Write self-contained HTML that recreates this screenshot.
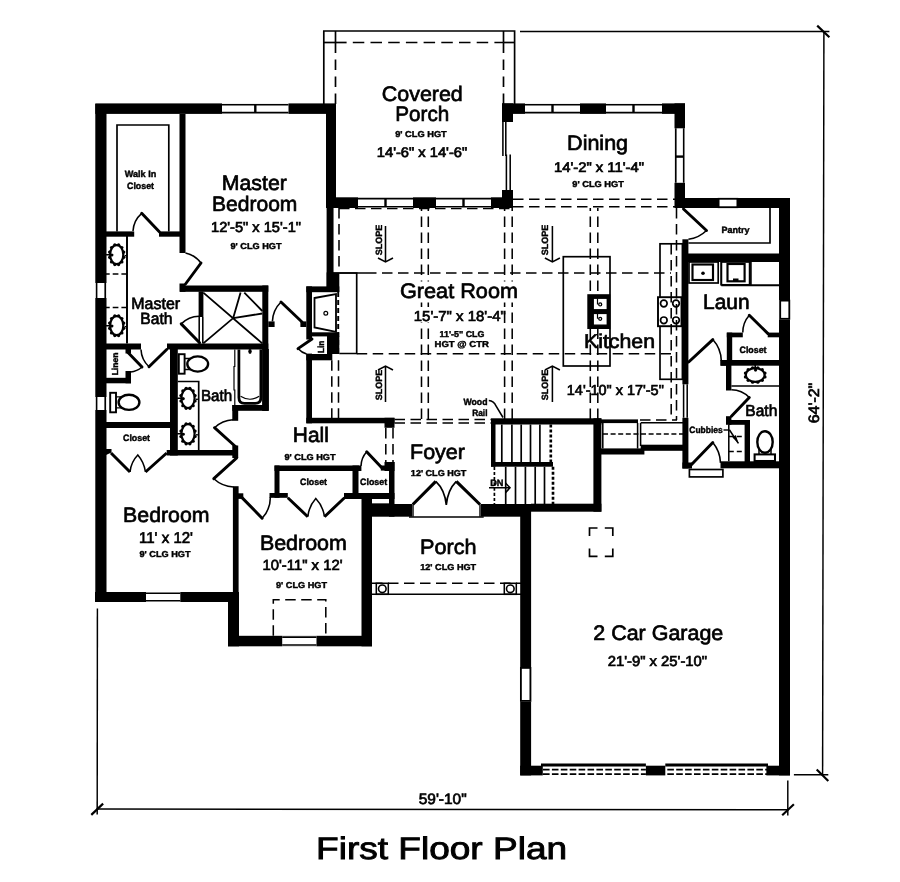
<!DOCTYPE html>
<html><head><meta charset="utf-8"><title>First Floor Plan</title>
<style>html,body{margin:0;padding:0;background:#fff}svg{display:block}svg{will-change:transform;transform:translateZ(0)}text{font-family:"Liberation Sans",sans-serif;fill:#000;stroke:#000;stroke-width:0.68px;paint-order:stroke;text-rendering:geometricPrecision}text.b{stroke-width:0.42px}</style>
</head><body>
<svg width="900" height="882" viewBox="0 0 900 882">
<rect width="900" height="882" fill="#fff"/>
<g id="walls">
<rect x="95.3" y="104.0" width="11.2" height="498.0" fill="#000"/>
<rect x="95.3" y="103.4" width="240.7" height="10.5" fill="#000"/>
<rect x="179.5" y="114.0" width="6.0" height="139.0" fill="#000"/>
<rect x="106.0" y="231.4" width="28.2" height="5.3" fill="#000"/>
<rect x="159.0" y="231.4" width="21.0" height="5.3" fill="#000"/>
<rect x="326.0" y="104.0" width="10.0" height="104.0" fill="#000"/>
<rect x="326.6" y="208.0" width="6.2" height="80.0" fill="#000"/>
<rect x="326.6" y="272.4" width="12.7" height="19.6" fill="#000"/>
<rect x="180.0" y="285.5" width="88.3" height="6.3" fill="#000"/>
<rect x="179.5" y="283.5" width="6.0" height="8.3" fill="#000"/>
<rect x="262.3" y="285.5" width="6.0" height="125.3" fill="#000"/>
<rect x="262.3" y="349.0" width="6.6" height="61.8" fill="#000"/>
<rect x="106.0" y="343.5" width="35.0" height="6.0" fill="#000"/>
<rect x="167.0" y="343.5" width="101.3" height="6.0" fill="#000"/>
<rect x="198.6" y="291.5" width="4.8" height="25.5" fill="#000"/>
<rect x="125.5" y="349.0" width="5.5" height="4.5" fill="#000"/>
<rect x="125.5" y="371.0" width="5.5" height="12.3" fill="#000"/>
<rect x="106.0" y="377.8" width="25.0" height="5.5" fill="#000"/>
<rect x="170.0" y="349.0" width="7.8" height="106.5" fill="#000"/>
<rect x="106.0" y="422.0" width="65.0" height="6.0" fill="#000"/>
<rect x="166.7" y="450.0" width="71.1" height="5.5" fill="#000"/>
<polygon points="106,449 111.5,449 111.5,452.5 106,455" fill="#000"/>
<rect x="232.3" y="405.0" width="36.0" height="5.8" fill="#000"/>
<rect x="232.3" y="405.0" width="5.9" height="15.8" fill="#000"/>
<rect x="232.3" y="445.5" width="5.9" height="12.5" fill="#000"/>
<rect x="232.9" y="486.2" width="5.7" height="113.8" fill="#000"/>
<rect x="228.0" y="592.0" width="11.0" height="54.3" fill="#000"/>
<rect x="238.0" y="493.3" width="5.3" height="5.6" fill="#000"/>
<rect x="95.0" y="592.0" width="137.0" height="10.0" fill="#000"/>
<rect x="228.0" y="635.8" width="144.0" height="10.5" fill="#000"/>
<rect x="361.5" y="493.0" width="10.5" height="153.3" fill="#000"/>
<rect x="274.5" y="465.5" width="84.5" height="5.5" fill="#000"/>
<rect x="274.5" y="465.5" width="5.0" height="32.3" fill="#000"/>
<rect x="269.5" y="493.0" width="18.3" height="4.8" fill="#000"/>
<rect x="352.5" y="465.5" width="6.0" height="32.3" fill="#000"/>
<rect x="344.5" y="493.0" width="27.5" height="4.8" fill="#000"/>
<rect x="389.0" y="462.0" width="5.5" height="54.7" fill="#000"/>
<rect x="344.0" y="493.0" width="50.5" height="6.0" fill="#000"/>
<rect x="384.5" y="417.8" width="10.0" height="10.0" fill="#000"/>
<rect x="384.5" y="462.0" width="10.0" height="9.0" fill="#000"/>
<rect x="380.8" y="465.5" width="8.2" height="5.1" fill="#000"/>
<rect x="358.4" y="465.5" width="3.0" height="5.5" fill="#000"/>
<rect x="306.3" y="286.4" width="5.7" height="53.1" fill="#000"/>
<rect x="306.3" y="353.6" width="5.7" height="69.7" fill="#000"/>
<rect x="306.3" y="417.8" width="88.2" height="5.5" fill="#000"/>
<rect x="306.3" y="286.4" width="33.0" height="5.8" fill="#000"/>
<rect x="312.0" y="332.3" width="27.3" height="4.1" fill="#000"/>
<rect x="327.0" y="336.0" width="12.3" height="18.0" fill="#000"/>
<rect x="306.3" y="354.0" width="26.0" height="6.3" fill="#000"/>
<rect x="300.4" y="321.4" width="5.9" height="5.6" fill="#000"/>
<rect x="268.3" y="321.4" width="6.3" height="5.6" fill="#000"/>
<rect x="372.0" y="504.0" width="40.0" height="12.7" fill="#000"/>
<rect x="481.0" y="504.0" width="50.0" height="12.7" fill="#000"/>
<rect x="520.2" y="504.0" width="10.9" height="271.4" fill="#000"/>
<rect x="520.2" y="765.7" width="22.6" height="9.7" fill="#000"/>
<rect x="645.9" y="765.7" width="19.4" height="9.7" fill="#000"/>
<rect x="766.4" y="765.7" width="23.6" height="9.7" fill="#000"/>
<rect x="779.0" y="198.0" width="11.0" height="577.4" fill="#000"/>
<rect x="675.0" y="198.0" width="115.0" height="10.0" fill="#000"/>
<rect x="502.0" y="103.4" width="183.0" height="10.5" fill="#000"/>
<rect x="502.0" y="103.4" width="11.0" height="18.6" fill="#000"/>
<rect x="502.0" y="190.0" width="11.0" height="18.0" fill="#000"/>
<rect x="674.5" y="103.4" width="10.5" height="104.6" fill="#000"/>
<rect x="326.0" y="197.3" width="187.0" height="10.7" fill="#000"/>
<rect x="682.4" y="239.3" width="6.0" height="145.0" fill="#000"/>
<rect x="682.4" y="417.8" width="6.0" height="50.7" fill="#000"/>
<rect x="682.4" y="462.5" width="9.6" height="6.0" fill="#000"/>
<rect x="688.0" y="253.5" width="92.0" height="8.5" fill="#000"/>
<rect x="726.8" y="332.6" width="5.4" height="32.4" fill="#000"/>
<rect x="726.8" y="332.6" width="16.0" height="4.7" fill="#000"/>
<rect x="767.7" y="332.6" width="12.3" height="4.7" fill="#000"/>
<rect x="720.5" y="360.0" width="59.5" height="5.7" fill="#000"/>
<rect x="726.0" y="365.0" width="5.4" height="25.5" fill="#000"/>
<rect x="726.0" y="416.2" width="5.4" height="8.6" fill="#000"/>
<rect x="728.3" y="420.0" width="21.7" height="4.8" fill="#000"/>
<rect x="744.6" y="420.0" width="5.4" height="43.0" fill="#000"/>
<rect x="720.5" y="461.3" width="59.5" height="7.0" fill="#000"/>
<rect x="491.0" y="418.3" width="110.4" height="6.2" fill="#000"/>
<rect x="593.4" y="418.3" width="8.0" height="93.4" fill="#000"/>
<rect x="531.0" y="503.7" width="70.4" height="8.0" fill="#000"/>
<rect x="491.0" y="421.0" width="4.5" height="45.7" fill="#000"/>
<rect x="491.0" y="462.0" width="62.0" height="4.7" fill="#000"/>
<rect x="601.0" y="419.4" width="37.0" height="3.7" fill="#000"/>
<rect x="601.0" y="448.4" width="43.4" height="6.1" fill="#000"/>
<rect x="640.7" y="444.7" width="43.3" height="6.1" fill="#000"/>
</g>
<g id="windows">
<rect x="222.0" y="103.1" width="66.5" height="11.1" fill="#fff"/>
<path d="M222,104.7 H288.5 M222,112.6 H288.5" stroke="#000" stroke-width="1.6" fill="none"/>
<path d="M255.3,104.7 V112.6" stroke="#000" stroke-width="2.4" fill="none"/>
<rect x="95.0" y="283.0" width="11.8" height="15.0" fill="#fff"/>
<path d="M96.6,283 V298 M105.2,283 V298" stroke="#000" stroke-width="1.6" fill="none"/>
<rect x="95.0" y="397.0" width="11.8" height="13.0" fill="#fff"/>
<path d="M96.6,397 V410 M105.2,397 V410" stroke="#000" stroke-width="1.6" fill="none"/>
<rect x="146.0" y="591.7" width="34.3" height="10.6" fill="#fff"/>
<path d="M146,593.3 H180.3 M146,600.7 H180.3" stroke="#000" stroke-width="1.6" fill="none"/>
<rect x="282.2" y="635.5" width="34.3" height="11.1" fill="#fff"/>
<path d="M282.2,637.1 H316.5 M282.2,645.0 H316.5" stroke="#000" stroke-width="1.6" fill="none"/>
<rect x="358.0" y="197.0" width="55.0" height="11.3" fill="#fff"/>
<path d="M358,198.6 H413 M358,206.7 H413" stroke="#000" stroke-width="1.6" fill="none"/>
<path d="M385.5,198.6 V206.7" stroke="#000" stroke-width="2.4" fill="none"/>
<rect x="436.0" y="197.0" width="55.0" height="11.3" fill="#fff"/>
<path d="M436,198.6 H491 M436,206.7 H491" stroke="#000" stroke-width="1.6" fill="none"/>
<path d="M463.5,198.6 V206.7" stroke="#000" stroke-width="2.4" fill="none"/>
<rect x="525.0" y="103.1" width="55.0" height="11.1" fill="#fff"/>
<path d="M525,104.7 H580 M525,112.6 H580" stroke="#000" stroke-width="1.6" fill="none"/>
<path d="M552.5,104.7 V112.6" stroke="#000" stroke-width="2.4" fill="none"/>
<rect x="606.0" y="103.1" width="56.0" height="11.1" fill="#fff"/>
<path d="M606,104.7 H662 M606,112.6 H662" stroke="#000" stroke-width="1.6" fill="none"/>
<path d="M633.5,104.7 V112.6" stroke="#000" stroke-width="2.4" fill="none"/>
<rect x="674.2" y="128.3" width="11.1" height="54.5" fill="#fff"/>
<path d="M675.8,128.3 V182.8 M683.7,128.3 V182.8" stroke="#000" stroke-width="1.6" fill="none"/>
<path d="M675.8,156.6 H683.7" stroke="#000" stroke-width="2.4" fill="none"/>
<rect x="718.5" y="197.7" width="19.5" height="10.9" fill="#fff"/>
<path d="M718.5,199.3 H738 M718.5,207.0 H738" stroke="#000" stroke-width="1.6" fill="none"/>
<rect x="778.7" y="300.0" width="11.6" height="19.4" fill="#fff"/>
<path d="M780.3,300 V319.4 M788.7,300 V319.4" stroke="#000" stroke-width="1.6" fill="none"/>
<rect x="519.9" y="667.3" width="11.5" height="34.2" fill="#fff"/>
<path d="M521.5,667.3 V701.5 M529.8,667.3 V701.5" stroke="#000" stroke-width="1.6" fill="none"/>
<rect x="502.0" y="122.0" width="11.0" height="68.0" fill="#fff"/>
<path d="M502.9,122 V156 M505.8,122 V156 M506.4,154.5 V190 M510.2,154.5 V190 M505.8,155.3 H506.4" fill="none" stroke="#000" stroke-width="1.54" stroke-linejoin="miter"/>
<rect x="718.0" y="198.0" width="20.0" height="10.0" fill="#fff"/>
<rect x="718.6" y="198.8" width="18.8" height="8.4" fill="none" stroke="#000" stroke-width="1.82"/>
<rect x="779.5" y="300.0" width="10.5" height="19.4" fill="#fff"/>
<rect x="780.2" y="300.6" width="9.1" height="18.2" fill="none" stroke="#000" stroke-width="1.82"/>
<rect x="520.2" y="667.3" width="10.9" height="34.2" fill="#fff"/>
<rect x="520.9" y="667.9" width="9.5" height="33.0" fill="none" stroke="#000" stroke-width="1.82"/>
<path d="M683.6,384.3 V417.8 M687.2,384.3 V417.8" fill="none" stroke="#000" stroke-width="1.54" stroke-linejoin="miter"/>
<line x1="541.0" y1="765.1" x2="645.9" y2="765.1" stroke="#000" stroke-width="3.0"/>
<line x1="543.0" y1="769.5" x2="645.9" y2="769.5" stroke="#000" stroke-width="1.75" stroke-dasharray="6.6 2.3"/>
<line x1="543.0" y1="774.2" x2="645.9" y2="774.2" stroke="#000" stroke-width="1.75" stroke-dasharray="6.6 2.3"/>
<line x1="665.3" y1="765.1" x2="768.0" y2="765.1" stroke="#000" stroke-width="3.0"/>
<line x1="667.3" y1="769.5" x2="768.0" y2="769.5" stroke="#000" stroke-width="1.75" stroke-dasharray="6.6 2.3"/>
<line x1="667.3" y1="774.2" x2="768.0" y2="774.2" stroke="#000" stroke-width="1.75" stroke-dasharray="6.6 2.3"/>
</g>
<g id="thin">
<path d="M323.8,104 V31 H514.6 V104" fill="none" stroke="#000" stroke-width="1.68" stroke-linejoin="miter"/>
<line x1="335.5" y1="31.0" x2="335.5" y2="42.5" stroke="#000" stroke-width="1.68"/>
<line x1="503.5" y1="31.0" x2="503.5" y2="42.5" stroke="#000" stroke-width="1.68"/>
<line x1="323.8" y1="42.5" x2="346.6" y2="42.5" stroke="#000" stroke-width="1.68"/>
<line x1="503.5" y1="42.5" x2="514.6" y2="42.5" stroke="#000" stroke-width="1.68"/>
<line x1="352.8" y1="42.5" x2="503.5" y2="42.5" stroke="#000" stroke-width="1.68" stroke-dasharray="11.5 6.2"/>
<line x1="335.5" y1="42.5" x2="335.5" y2="104.0" stroke="#000" stroke-width="1.68" stroke-dasharray="10.5 6.5"/>
<line x1="503.5" y1="42.5" x2="503.5" y2="104.0" stroke="#000" stroke-width="1.68" stroke-dasharray="10.5 6.5"/>
<line x1="332.7" y1="208.0" x2="332.7" y2="273.0" stroke="#000" stroke-width="1.68"/>
<line x1="332.7" y1="273.0" x2="366.0" y2="273.0" stroke="#000" stroke-width="1.68"/>
<line x1="339.0" y1="208.0" x2="339.0" y2="270.0" stroke="#000" stroke-width="1.54" stroke-dasharray="10.5 5.5"/>
<line x1="421.5" y1="419.0" x2="421.5" y2="208.0" stroke="#000" stroke-width="1.54" stroke-dasharray="10.5 5.5"/>
<line x1="428.3" y1="419.0" x2="428.3" y2="208.0" stroke="#000" stroke-width="1.54" stroke-dasharray="10.5 5.5"/>
<line x1="504.6" y1="419.0" x2="504.6" y2="208.0" stroke="#000" stroke-width="1.54" stroke-dasharray="10.5 5.5"/>
<line x1="512.2" y1="419.0" x2="512.2" y2="208.0" stroke="#000" stroke-width="1.54" stroke-dasharray="10.5 5.5"/>
<line x1="590.3" y1="419.0" x2="590.3" y2="208.0" stroke="#000" stroke-width="1.54" stroke-dasharray="10.5 5.5"/>
<line x1="597.8" y1="419.0" x2="597.8" y2="208.0" stroke="#000" stroke-width="1.54" stroke-dasharray="10.5 5.5"/>
<line x1="366.0" y1="273.0" x2="671.0" y2="273.0" stroke="#000" stroke-width="1.54" stroke-dasharray="10.5 5.5"/>
<line x1="356.7" y1="353.8" x2="671.0" y2="353.8" stroke="#000" stroke-width="1.54" stroke-dasharray="10.5 5.5"/>
<line x1="513.0" y1="199.3" x2="675.0" y2="199.3" stroke="#000" stroke-width="1.54" stroke-dasharray="10.5 5.5"/>
<line x1="513.0" y1="206.8" x2="675.0" y2="206.8" stroke="#000" stroke-width="1.54" stroke-dasharray="10.5 5.5"/>
<line x1="339.0" y1="208.7" x2="513.0" y2="208.7" stroke="#000" stroke-width="1.26" stroke-dasharray="10.5 5.5"/>
<path d="M339.3,273 H356.7 V353.5 H339.3" fill="none" stroke="#000" stroke-width="1.68" stroke-linejoin="miter"/>
<line x1="338.2" y1="292.0" x2="338.2" y2="354.0" stroke="#000" stroke-width="1.92" stroke-dasharray="5 3"/>
<line x1="331.8" y1="360.3" x2="331.8" y2="418.0" stroke="#000" stroke-width="1.54" stroke-dasharray="10.5 5.5"/>
<line x1="338.5" y1="360.3" x2="338.5" y2="418.0" stroke="#000" stroke-width="1.54" stroke-dasharray="10.5 5.5"/>
<line x1="385.8" y1="428.0" x2="385.8" y2="462.0" stroke="#000" stroke-width="1.54" stroke-dasharray="10.5 5.5"/>
<line x1="393.0" y1="428.0" x2="393.0" y2="462.0" stroke="#000" stroke-width="1.54" stroke-dasharray="10.5 5.5"/>
<line x1="394.5" y1="419.6" x2="491.0" y2="419.6" stroke="#000" stroke-width="1.54" stroke-dasharray="10.5 5.5"/>
<line x1="394.5" y1="423.0" x2="491.0" y2="423.0" stroke="#000" stroke-width="1.54" stroke-dasharray="10.5 5.5"/>
<line x1="640.0" y1="420.0" x2="677.0" y2="420.0" stroke="#000" stroke-width="1.54" stroke-dasharray="10.5 5.5"/>
<line x1="640.7" y1="422.8" x2="683.5" y2="422.8" stroke="#000" stroke-width="1.54"/>
<rect x="563.3" y="256.7" width="46.7" height="109.3" fill="none" stroke="#000" stroke-width="1.68"/>
<rect x="660.0" y="243.8" width="22.4" height="135.5" fill="none" stroke="#000" stroke-width="1.68"/>
<path d="M770,208 V243 H688.4" fill="none" stroke="#000" stroke-width="1.68" stroke-linejoin="miter"/>
<path d="M117,231.4 V125 H168.8 V231.4" fill="none" stroke="#000" stroke-width="1.68" stroke-linejoin="miter"/>
<line x1="127.0" y1="236.0" x2="127.0" y2="343.5" stroke="#000" stroke-width="1.96"/>
<line x1="104.0" y1="274.0" x2="127.0" y2="274.0" stroke="#000" stroke-width="1.68" stroke-dasharray="5.7 3"/>
<line x1="104.0" y1="307.5" x2="127.0" y2="307.5" stroke="#000" stroke-width="1.68" stroke-dasharray="5.7 3"/>
<path d="M177.8,381.5 H198.7 V450" fill="none" stroke="#000" stroke-width="1.68" stroke-linejoin="miter"/>
<line x1="721.3" y1="285.2" x2="779.5" y2="285.2" stroke="#000" stroke-width="1.96"/>
<line x1="721.3" y1="262.0" x2="721.3" y2="285.2" stroke="#000" stroke-width="1.68"/>
<line x1="750.9" y1="262.0" x2="750.9" y2="285.2" stroke="#000" stroke-width="1.68"/>
<line x1="731.4" y1="386.0" x2="779.5" y2="386.0" stroke="#000" stroke-width="1.68"/>
<line x1="728.8" y1="424.8" x2="728.8" y2="461.3" stroke="#000" stroke-width="1.54"/>
<line x1="728.8" y1="436.4" x2="744.6" y2="436.4" stroke="#000" stroke-width="1.54" stroke-dasharray="5 3"/>
<line x1="728.8" y1="451.5" x2="744.6" y2="451.5" stroke="#000" stroke-width="1.54" stroke-dasharray="5 3"/>
<rect x="689.4" y="469.5" width="33.5" height="7.4" fill="#fff" stroke="#000" stroke-width="1.68"/>
<line x1="603.0" y1="434.1" x2="683.0" y2="434.1" stroke="#000" stroke-width="1.54" stroke-dasharray="5 2.6"/>
<path d="M602.8,423 V448.5 M637.6,423 V448.5 M640.6,423 V446" fill="none" stroke="#000" stroke-width="1.54" stroke-linejoin="miter"/>
<rect x="372.0" y="499.0" width="17.0" height="5.0" fill="#fff"/>
<line x1="372.0" y1="503.9" x2="389.0" y2="503.9" stroke="#000" stroke-width="1.12"/>
<line x1="501.8" y1="424.5" x2="501.8" y2="462.0" stroke="#000" stroke-width="1.68"/>
<line x1="511.9" y1="424.5" x2="511.9" y2="462.0" stroke="#000" stroke-width="1.68"/>
<line x1="521.2" y1="424.5" x2="521.2" y2="462.0" stroke="#000" stroke-width="1.68"/>
<line x1="530.5" y1="424.5" x2="530.5" y2="462.0" stroke="#000" stroke-width="1.68"/>
<line x1="539.9" y1="424.5" x2="539.9" y2="462.0" stroke="#000" stroke-width="1.68"/>
<line x1="550.8" y1="424.5" x2="550.8" y2="462.0" stroke="#000" stroke-width="2.64" stroke-dasharray="3 2"/>
<line x1="505.7" y1="466.7" x2="505.7" y2="504.0" stroke="#000" stroke-width="1.68"/>
<line x1="515.5" y1="466.7" x2="515.5" y2="504.0" stroke="#000" stroke-width="1.68"/>
<line x1="525.4" y1="466.7" x2="525.4" y2="504.0" stroke="#000" stroke-width="1.68"/>
<line x1="535.2" y1="466.7" x2="535.2" y2="504.0" stroke="#000" stroke-width="1.68"/>
<line x1="544.5" y1="466.7" x2="544.5" y2="504.0" stroke="#000" stroke-width="1.68"/>
<line x1="494.4" y1="466.7" x2="494.4" y2="504.0" stroke="#000" stroke-width="1.68" stroke-dasharray="3.2 2"/>
<line x1="553.0" y1="466.7" x2="553.0" y2="504.0" stroke="#000" stroke-width="2.64" stroke-dasharray="3 2"/>
<line x1="372.0" y1="583.3" x2="521.0" y2="583.3" stroke="#000" stroke-width="1.54" stroke-dasharray="10.5 5.5"/>
<line x1="372.0" y1="594.3" x2="521.0" y2="594.3" stroke="#000" stroke-width="1.54"/>
<rect x="376.3" y="583.3" width="12.0" height="11.0" fill="none" stroke="#000" stroke-width="1.54"/>
<circle cx="382.3" cy="588.8" r="3.8" fill="#fff" stroke="#000" stroke-width="1.6"/>
<rect x="504.3" y="583.3" width="12.0" height="11.0" fill="none" stroke="#000" stroke-width="1.54"/>
<circle cx="510.3" cy="588.8" r="3.8" fill="#fff" stroke="#000" stroke-width="1.6"/>
<path d="M273.3,635.8 V599.7 H325.8 V635.8" fill="none" stroke="#000" stroke-width="1.54" stroke-linejoin="miter" stroke-dasharray="10.5 5.5"/>
<path d="M589.5,536 V528 H597.5 M604.8,528 H612.8 V536 M612.8,548.4 V556.4 H604.8 M597.5,556.4 H589.5 V548.4" fill="none" stroke="#000" stroke-width="1.68" stroke-linejoin="miter"/>
<path d="M413,504.2 V516.7 M480,504.2 V516.7" fill="none" stroke="#000" stroke-width="1.4" stroke-linejoin="miter"/>
<line x1="409.0" y1="516.9" x2="483.7" y2="516.9" stroke="#000" stroke-width="1.54"/>
</g>
<g id="fixtures">
<circle cx="123.8" cy="257.3" r="1.6" fill="#000"/>
<circle cx="121.9" cy="261.9" r="1.6" fill="#000"/>
<circle cx="118.6" cy="264.6" r="1.6" fill="#000"/>
<circle cx="114.8" cy="264.6" r="1.6" fill="#000"/>
<circle cx="111.5" cy="261.9" r="1.6" fill="#000"/>
<circle cx="109.6" cy="257.3" r="1.6" fill="#000"/>
<circle cx="109.6" cy="252.1" r="1.6" fill="#000"/>
<circle cx="111.5" cy="247.5" r="1.6" fill="#000"/>
<circle cx="114.8" cy="244.8" r="1.6" fill="#000"/>
<circle cx="118.6" cy="244.8" r="1.6" fill="#000"/>
<circle cx="121.9" cy="247.5" r="1.6" fill="#000"/>
<circle cx="123.8" cy="252.1" r="1.6" fill="#000"/>
<ellipse cx="116.7" cy="254.7" rx="6.6" ry="9.5" fill="#fff" stroke="#000" stroke-width="2.2"/>
<path d="M106.5,254.7 H112.5" stroke="#000" stroke-width="1.6" stroke-linecap="round"/>
<circle cx="111.9" cy="255.1" r="1.5" fill="#000"/>
<path d="M124.6,255.7 h2" stroke="#000" stroke-width="1.4"/>
<circle cx="123.8" cy="328.3" r="1.6" fill="#000"/>
<circle cx="121.9" cy="332.9" r="1.6" fill="#000"/>
<circle cx="118.6" cy="335.6" r="1.6" fill="#000"/>
<circle cx="114.8" cy="335.6" r="1.6" fill="#000"/>
<circle cx="111.5" cy="332.9" r="1.6" fill="#000"/>
<circle cx="109.6" cy="328.3" r="1.6" fill="#000"/>
<circle cx="109.6" cy="323.1" r="1.6" fill="#000"/>
<circle cx="111.5" cy="318.5" r="1.6" fill="#000"/>
<circle cx="114.8" cy="315.8" r="1.6" fill="#000"/>
<circle cx="118.6" cy="315.8" r="1.6" fill="#000"/>
<circle cx="121.9" cy="318.5" r="1.6" fill="#000"/>
<circle cx="123.8" cy="323.1" r="1.6" fill="#000"/>
<ellipse cx="116.7" cy="325.7" rx="6.6" ry="9.5" fill="#fff" stroke="#000" stroke-width="2.2"/>
<path d="M106.5,325.7 H112.5" stroke="#000" stroke-width="1.6" stroke-linecap="round"/>
<circle cx="111.9" cy="326.1" r="1.5" fill="#000"/>
<path d="M124.6,326.7 h2" stroke="#000" stroke-width="1.4"/>
<circle cx="195.1" cy="401.0" r="1.6" fill="#000"/>
<circle cx="193.2" cy="405.7" r="1.6" fill="#000"/>
<circle cx="189.9" cy="408.3" r="1.6" fill="#000"/>
<circle cx="186.1" cy="408.3" r="1.6" fill="#000"/>
<circle cx="182.8" cy="405.7" r="1.6" fill="#000"/>
<circle cx="180.9" cy="401.0" r="1.6" fill="#000"/>
<circle cx="180.9" cy="395.6" r="1.6" fill="#000"/>
<circle cx="182.8" cy="390.9" r="1.6" fill="#000"/>
<circle cx="186.1" cy="388.3" r="1.6" fill="#000"/>
<circle cx="189.9" cy="388.3" r="1.6" fill="#000"/>
<circle cx="193.2" cy="390.9" r="1.6" fill="#000"/>
<circle cx="195.1" cy="395.6" r="1.6" fill="#000"/>
<ellipse cx="188.0" cy="398.3" rx="6.6" ry="9.7" fill="#fff" stroke="#000" stroke-width="2.2"/>
<path d="M177.8,398.3 H183.8" stroke="#000" stroke-width="1.6" stroke-linecap="round"/>
<circle cx="183.2" cy="398.7" r="1.5" fill="#000"/>
<path d="M195.9,399.3 h2" stroke="#000" stroke-width="1.4"/>
<circle cx="195.1" cy="436.5" r="1.6" fill="#000"/>
<circle cx="193.2" cy="441.2" r="1.6" fill="#000"/>
<circle cx="189.9" cy="443.8" r="1.6" fill="#000"/>
<circle cx="186.1" cy="443.8" r="1.6" fill="#000"/>
<circle cx="182.8" cy="441.2" r="1.6" fill="#000"/>
<circle cx="180.9" cy="436.5" r="1.6" fill="#000"/>
<circle cx="180.9" cy="431.1" r="1.6" fill="#000"/>
<circle cx="182.8" cy="426.4" r="1.6" fill="#000"/>
<circle cx="186.1" cy="423.8" r="1.6" fill="#000"/>
<circle cx="189.9" cy="423.8" r="1.6" fill="#000"/>
<circle cx="193.2" cy="426.4" r="1.6" fill="#000"/>
<circle cx="195.1" cy="431.1" r="1.6" fill="#000"/>
<ellipse cx="188.0" cy="433.8" rx="6.6" ry="9.7" fill="#fff" stroke="#000" stroke-width="2.2"/>
<path d="M177.8,433.8 H183.8" stroke="#000" stroke-width="1.6" stroke-linecap="round"/>
<circle cx="183.2" cy="434.2" r="1.5" fill="#000"/>
<path d="M195.9,434.8 h2" stroke="#000" stroke-width="1.4"/>
<circle cx="765.0" cy="376.9" r="1.6" fill="#000"/>
<circle cx="762.3" cy="380.3" r="1.6" fill="#000"/>
<circle cx="757.8" cy="382.2" r="1.6" fill="#000"/>
<circle cx="752.6" cy="382.2" r="1.6" fill="#000"/>
<circle cx="748.1" cy="380.3" r="1.6" fill="#000"/>
<circle cx="745.4" cy="376.9" r="1.6" fill="#000"/>
<circle cx="745.4" cy="373.1" r="1.6" fill="#000"/>
<circle cx="748.1" cy="369.7" r="1.6" fill="#000"/>
<circle cx="752.6" cy="367.8" r="1.6" fill="#000"/>
<circle cx="757.8" cy="367.8" r="1.6" fill="#000"/>
<circle cx="762.3" cy="369.7" r="1.6" fill="#000"/>
<circle cx="765.0" cy="373.1" r="1.6" fill="#000"/>
<ellipse cx="755.2" cy="375.0" rx="9.4" ry="6.8" fill="#fff" stroke="#000" stroke-width="2.2"/>
<path d="M755.2,365.4 V370.6" stroke="#000" stroke-width="1.6" stroke-linecap="round"/>
<circle cx="755.6" cy="370.0" r="1.5" fill="#000"/>
<rect x="178.8" y="354.2" width="5.8" height="19.5" fill="#fff" stroke="#000" stroke-width="1.92"/>
<path d="M184.6,358.5 H190.7 M184.6,369.5 H190.7" stroke="#000" stroke-width="1.3" fill="none"/>
<ellipse cx="197.7" cy="364.0" rx="10.4" ry="7.6" fill="#fff" stroke="#000" stroke-width="2.4"/>
<rect x="110.2" y="392.8" width="5.8" height="19.5" fill="#fff" stroke="#000" stroke-width="1.92"/>
<path d="M116.0,396.8 H122.0 M116.0,407.8 H122.0" stroke="#000" stroke-width="1.3" fill="none"/>
<ellipse cx="129.0" cy="402.3" rx="10.4" ry="7.6" fill="#fff" stroke="#000" stroke-width="2.4"/>
<rect x="754.6" y="454.4" width="20.4" height="6.6" fill="#fff" stroke="#000" stroke-width="2.04"/>
<path d="M759,454.4 V448 M771,454.4 V448" stroke="#000" stroke-width="1.5" fill="none"/>
<ellipse cx="765" cy="442" rx="7.7" ry="10.8" fill="#fff" stroke="#000" stroke-width="2.4"/>
<path d="M234.8,349.5 V366.5 H234 V390 H234.8 V405" fill="none" stroke="#000" stroke-width="1.19" stroke-linejoin="miter"/>
<path d="M238.9,349.5 V397.5 Q238.9,403.4 244.5,403.4 H255.2 Q260.9,403.4 260.9,397.5 V349.5" fill="none" stroke="#000" stroke-width="2.76" stroke-linejoin="round"/>
<path d="M240.6,396.2 Q250,402.2 259.2,396.2" fill="none" stroke="#000" stroke-width="1.12" stroke-linejoin="miter"/>
<ellipse cx="250" cy="351.3" rx="1.7" ry="2.6" fill="#000"/>
<path d="M203.3,292.6 L262.3,343.4 M203.3,343.4 L233.2,318.1 L240.6,292.6 M233.2,318.1 L262.3,313.5 M244.3,292.6 L262.3,311" fill="none" stroke="#000" stroke-width="1.82" stroke-linejoin="miter"/>
<path d="M314.5,298 L336,294 V332 L314.5,327.5 Z" fill="none" stroke="#000" stroke-width="1.82" stroke-linejoin="miter"/>
<circle cx="325.8" cy="313.3" r="1.9" fill="#fff" stroke="#000" stroke-width="1.2"/>
<rect x="587.3" y="294.2" width="23.0" height="34.8" fill="#000"/>
<rect x="593.2" y="298.2" width="14.1" height="11.6" fill="#fff" stroke="#000" stroke-width="1.4"/>
<rect x="593.2" y="313.4" width="14.1" height="11.8" fill="#fff" stroke="#000" stroke-width="1.4"/>
<circle cx="600.2" cy="304.4" r="1.5" fill="#fff" stroke="#000" stroke-width="1.3"/><circle cx="600.2" cy="318.8" r="1.5" fill="#fff" stroke="#000" stroke-width="1.3"/><path d="M597.5,298.2 V304.4 M597.5,313.4 V318.8" stroke="#000" stroke-width="1.2"/>
<rect x="658.0" y="297.2" width="23.5" height="29.0" fill="#fff" stroke="#000" stroke-width="1.92"/>
<circle cx="663.8" cy="303.5" r="3.3" fill="#fff" stroke="#000" stroke-width="1.7"/>
<circle cx="676" cy="303.5" r="3.3" fill="#fff" stroke="#000" stroke-width="1.7"/>
<circle cx="663.8" cy="320.3" r="3.3" fill="#fff" stroke="#000" stroke-width="1.7"/>
<circle cx="676" cy="320.3" r="3.3" fill="#fff" stroke="#000" stroke-width="1.7"/>
<rect x="689.0" y="262.0" width="29.2" height="21.0" fill="none" stroke="#000" stroke-width="1.68"/>
<rect x="692.5" y="264.5" width="20.5" height="15.5" fill="none" stroke="#000" stroke-width="2.16"/>
<circle cx="703" cy="273.2" r="1.8" fill="#000"/>
<rect x="721.3" y="262.0" width="28.3" height="22.8" fill="none" stroke="#000" stroke-width="1.68"/>
<rect x="727.5" y="264.0" width="17.1" height="17.3" fill="none" stroke="#000" stroke-width="2.16"/>
<rect x="733.0" y="278.5" width="5.5" height="2.8" fill="#000"/>
</g>
<g id="doors">
<line x1="159.3" y1="231.7" x2="141.7" y2="213.3" stroke="#000" stroke-width="2.94" stroke-linecap="round"/>
<path d="M141.7,213.3 A25.5,25.5 0 0 0 133.0,231.0" fill="none" stroke="#000" stroke-width="1.55"/>
<line x1="185.5" y1="284.0" x2="201.0" y2="263.0" stroke="#000" stroke-width="2.94" stroke-linecap="round"/>
<path d="M201.0,263.0 A26.1,26.1 0 0 0 185.5,253.0" fill="none" stroke="#000" stroke-width="1.55"/>
<path d="M199.2,317 V343.5 M202.8,317 V343.5" fill="none" stroke="#000" stroke-width="1.54" stroke-linejoin="miter"/>
<line x1="199.6" y1="342.8" x2="181.2" y2="323.9" stroke="#000" stroke-width="2.94" stroke-linecap="round"/>
<path d="M181.2,323.9 A26.4,26.4 0 0 1 199.0,316.3" fill="none" stroke="#000" stroke-width="1.55"/>
<line x1="166.7" y1="349.5" x2="149.0" y2="366.7" stroke="#000" stroke-width="2.94" stroke-linecap="round"/>
<path d="M149.0,366.7 A24.7,24.7 0 0 1 141.0,349.5" fill="none" stroke="#000" stroke-width="1.55"/>
<line x1="128.0" y1="352.5" x2="142.0" y2="367.0" stroke="#000" stroke-width="2.94" stroke-linecap="round"/>
<path d="M142.0,367.0 A20.2,20.2 0 0 1 130.5,372.0" fill="none" stroke="#000" stroke-width="1.55"/>
<line x1="302.0" y1="322.0" x2="281.0" y2="302.0" stroke="#000" stroke-width="2.94" stroke-linecap="round"/>
<path d="M281.0,302.0 A29.0,29.0 0 0 0 272.4,321.4" fill="none" stroke="#000" stroke-width="1.55"/>
<line x1="312.0" y1="339.0" x2="298.0" y2="348.6" stroke="#000" stroke-width="2.94" stroke-linecap="round"/>
<path d="M298.0,348.6 A17.0,17.0 0 0 0 306.6,354.0" fill="none" stroke="#000" stroke-width="1.55"/>
<line x1="236.5" y1="447.5" x2="214.5" y2="427.7" stroke="#000" stroke-width="2.94" stroke-linecap="round"/>
<path d="M214.5,427.7 A29.6,29.6 0 0 1 233.0,419.8" fill="none" stroke="#000" stroke-width="1.55"/>
<line x1="236.7" y1="457.8" x2="213.8" y2="478.7" stroke="#000" stroke-width="2.94" stroke-linecap="round"/>
<path d="M213.8,478.7 A31.0,31.0 0 0 0 233.6,486.9" fill="none" stroke="#000" stroke-width="1.55"/>
<line x1="241.5" y1="497.1" x2="262.1" y2="518.2" stroke="#000" stroke-width="2.94" stroke-linecap="round"/>
<path d="M262.1,518.2 A29.5,29.5 0 0 0 270.3,497.1" fill="none" stroke="#000" stroke-width="1.55"/>
<path d="M111,453 L130,472 M166.7,453 L145.5,472" fill="none" stroke="#000" stroke-width="2.94" stroke-linejoin="miter"/>
<path d="M130,472 Q131,462 137.8,455 Q144,462 145.5,472" fill="none" stroke="#000" stroke-width="1.54" stroke-linejoin="miter"/>
<path d="M287.8,497.8 L307.8,516.7 M344.5,497.8 L324.5,516.7" fill="none" stroke="#000" stroke-width="2.94" stroke-linejoin="miter"/>
<path d="M307.8,516.7 Q309,506 315.8,498.5 Q323,506 324.5,516.7" fill="none" stroke="#000" stroke-width="1.54" stroke-linejoin="miter"/>
<line x1="382.0" y1="468.0" x2="366.7" y2="451.7" stroke="#000" stroke-width="2.94" stroke-linecap="round"/>
<path d="M366.7,451.7 A22.4,22.4 0 0 0 361.0,466.0" fill="none" stroke="#000" stroke-width="1.55"/>
<path d="M412.8,504.5 L435.8,481.3 M480,504.5 L456.3,481.3" fill="none" stroke="#000" stroke-width="3.12" stroke-linejoin="miter"/>
<path d="M435.8,481.3 Q445,490 446.3,505 Q447.6,490 456.3,481.3" fill="none" stroke="#000" stroke-width="1.68" stroke-linejoin="miter"/>
<line x1="683.5" y1="209.0" x2="706.5" y2="230.5" stroke="#000" stroke-width="2.94" stroke-linecap="round"/>
<path d="M706.5,230.5 A31.5,31.5 0 0 1 688.4,239.3" fill="none" stroke="#000" stroke-width="1.55"/>
<line x1="767.7" y1="333.4" x2="749.3" y2="315.2" stroke="#000" stroke-width="2.94" stroke-linecap="round"/>
<path d="M749.3,315.2 A25.9,25.9 0 0 0 742.8,332.6" fill="none" stroke="#000" stroke-width="1.55"/>
<line x1="688.7" y1="362.0" x2="712.8" y2="339.6" stroke="#000" stroke-width="2.94" stroke-linecap="round"/>
<path d="M712.8,339.6 A32.9,32.9 0 0 1 721.3,360.6" fill="none" stroke="#000" stroke-width="1.55"/>
<rect x="720.5" y="360.0" width="6.5" height="5.7" fill="#000"/>
<line x1="731.4" y1="416.2" x2="749.3" y2="397.5" stroke="#000" stroke-width="2.94" stroke-linecap="round"/>
<path d="M749.3,397.5 A25.9,25.9 0 0 0 731.4,389.8" fill="none" stroke="#000" stroke-width="1.55"/>
<line x1="689.4" y1="466.7" x2="712.8" y2="442.6" stroke="#000" stroke-width="2.94" stroke-linecap="round"/>
<path d="M712.8,442.6 A33.6,33.6 0 0 1 720.5,462.9" fill="none" stroke="#000" stroke-width="1.55"/>
</g>
<g id="arrows">
<line x1="671.2" y1="244.0" x2="671.2" y2="420.0" stroke="#000" stroke-width="1.54" stroke-dasharray="10.5 5.5"/>
<line x1="676.5" y1="208.0" x2="676.5" y2="420.0" stroke="#000" stroke-width="1.54" stroke-dasharray="10.5 5.5"/>
<path d="M385.5,226 V262 M378.0,258 L385.5,262 L393.0,258" fill="none" stroke="#000" stroke-width="1.54" stroke-linejoin="miter"/>
<path d="M552.4,226 V262 M544.9,258 L552.4,262 L559.9,258" fill="none" stroke="#000" stroke-width="1.54" stroke-linejoin="miter"/>
<path d="M385.5,402 V366 M378.0,370 L385.5,366 L393.0,370" fill="none" stroke="#000" stroke-width="1.54" stroke-linejoin="miter"/>
<path d="M552.4,402 V366 M544.9,370 L552.4,366 L559.9,370" fill="none" stroke="#000" stroke-width="1.54" stroke-linejoin="miter"/>
<path d="M489,487.8 H510 M505.5,483 L510,487.8 L505.5,492.6" fill="none" stroke="#000" stroke-width="1.54" stroke-linejoin="miter"/>
<path d="M488.8,400.6 Q494,401 496,406 L503,417.5" fill="none" stroke="#000" stroke-width="1.54" stroke-linejoin="miter"/>
<path d="M723.5,430 H729.5" fill="none" stroke="#000" stroke-width="1.4" stroke-linejoin="miter"/>
<path d="M729.5,430 L738.4,443.4" fill="none" stroke="#000" stroke-width="1.54" stroke-linejoin="miter"/>
<polygon points="738.6,443.6 732.4,437.4 735.8,435" fill="#000"/>
</g>
<g id="texts">
<text x="422.3" y="100.6" font-size="21.0" text-anchor="middle" textLength="81.0" lengthAdjust="spacingAndGlyphs">Covered</text>
<text x="422.3" y="120.9" font-size="21.0" text-anchor="middle" textLength="54.0" lengthAdjust="spacingAndGlyphs">Porch</text>
<text x="421.0" y="137.4" font-size="8.6" text-anchor="middle" font-weight="bold" class="b" textLength="51.6" lengthAdjust="spacingAndGlyphs">9' CLG HGT</text>
<text x="422.0" y="157.0" font-size="14" text-anchor="middle" textLength="90.4" lengthAdjust="spacingAndGlyphs">14'-6&quot; x 14'-6&quot;</text>
<text x="597.6" y="150.3" font-size="21.0" text-anchor="middle" textLength="61.0" lengthAdjust="spacingAndGlyphs">Dining</text>
<text x="599.0" y="172.0" font-size="14" text-anchor="middle" textLength="90.0" lengthAdjust="spacingAndGlyphs">14'-2&quot; x 11'-4&quot;</text>
<text x="598.1" y="186.7" font-size="8.6" text-anchor="middle" font-weight="bold" class="b" textLength="51.6" lengthAdjust="spacingAndGlyphs">9' CLG HGT</text>
<text x="735.5" y="232.5" font-size="9.2" text-anchor="middle" font-weight="bold" class="b" textLength="28.0" lengthAdjust="spacingAndGlyphs">Pantry</text>
<text x="140.5" y="177.0" font-size="9.2" text-anchor="middle" font-weight="bold" class="b" textLength="31.5" lengthAdjust="spacingAndGlyphs">Walk In</text>
<text x="140.5" y="188.5" font-size="9.2" text-anchor="middle" font-weight="bold" class="b" textLength="27.0" lengthAdjust="spacingAndGlyphs">Closet</text>
<text x="254.3" y="190.0" font-size="21.0" text-anchor="middle" textLength="65.0" lengthAdjust="spacingAndGlyphs">Master</text>
<text x="254.7" y="210.5" font-size="21.0" text-anchor="middle" textLength="85.4" lengthAdjust="spacingAndGlyphs">Bedroom</text>
<text x="256.0" y="231.5" font-size="14.4" text-anchor="middle" textLength="90.0" lengthAdjust="spacingAndGlyphs">12'-5&quot; x 15'-1&quot;</text>
<text x="256.0" y="249.0" font-size="8.6" text-anchor="middle" font-weight="bold" class="b" textLength="51.0" lengthAdjust="spacingAndGlyphs">9' CLG HGT</text>
<text x="155.7" y="308.6" font-size="16.2" text-anchor="middle" textLength="48.8" lengthAdjust="spacingAndGlyphs">Master</text>
<text x="156.4" y="324.4" font-size="16.2" text-anchor="middle" textLength="32.2" lengthAdjust="spacingAndGlyphs">Bath</text>
<rect x="399.0" y="281.5" width="120.0" height="21.0" fill="#fff"/>
<rect x="412.0" y="308.5" width="91.0" height="14.0" fill="#fff"/>
<text x="459.0" y="298.3" font-size="21.0" text-anchor="middle" textLength="118.0" lengthAdjust="spacingAndGlyphs">Great Room</text>
<text x="459.8" y="320.5" font-size="14.4" text-anchor="middle" textLength="92.0" lengthAdjust="spacingAndGlyphs">15'-7&quot; x 18'-4&quot;</text>
<text x="462.0" y="337.4" font-size="8.6" text-anchor="middle" font-weight="bold" class="b" textLength="44.8" lengthAdjust="spacingAndGlyphs">11'-5&quot; CLG</text>
<text x="461.7" y="347.2" font-size="8.6" text-anchor="middle" font-weight="bold" class="b" textLength="54.3" lengthAdjust="spacingAndGlyphs">HGT @ CTR</text>
<text x="619.5" y="347.8" font-size="20" text-anchor="middle" textLength="71.0" lengthAdjust="spacingAndGlyphs">Kitchen</text>
<text x="615.3" y="395.0" font-size="14.4" text-anchor="middle" textLength="97.0" lengthAdjust="spacingAndGlyphs">14'-10&quot; x 17'-5&quot;</text>
<text x="726.3" y="309.1" font-size="21.0" text-anchor="middle" textLength="46.5" lengthAdjust="spacingAndGlyphs">Laun</text>
<text x="753.0" y="353.0" font-size="9.2" text-anchor="middle" font-weight="bold" class="b" textLength="27.0" lengthAdjust="spacingAndGlyphs">Closet</text>
<text x="761.3" y="416.3" font-size="16" text-anchor="middle" textLength="32.0" lengthAdjust="spacingAndGlyphs">Bath</text>
<text x="706.0" y="433.3" font-size="9.2" text-anchor="middle" font-weight="bold" class="b" textLength="33.5" lengthAdjust="spacingAndGlyphs">Cubbies</text>
<text x="487.5" y="405.0" font-size="9.2" text-anchor="end" font-weight="bold" class="b" textLength="24.0" lengthAdjust="spacingAndGlyphs">Wood</text>
<text x="487.5" y="415.7" font-size="9.2" text-anchor="end" font-weight="bold" class="b" textLength="15.3" lengthAdjust="spacingAndGlyphs">Rail</text>
<text x="310.8" y="442.3" font-size="21.0" text-anchor="middle" textLength="36.0" lengthAdjust="spacingAndGlyphs">Hall</text>
<text x="310.0" y="459.5" font-size="8.6" text-anchor="middle" font-weight="bold" class="b" textLength="51.0" lengthAdjust="spacingAndGlyphs">9' CLG HGT</text>
<text x="437.5" y="458.7" font-size="21.0" text-anchor="middle" textLength="55.0" lengthAdjust="spacingAndGlyphs">Foyer</text>
<text x="438.6" y="475.5" font-size="8.6" text-anchor="middle" font-weight="bold" class="b" textLength="55.5" lengthAdjust="spacingAndGlyphs">12' CLG HGT</text>
<text x="313.5" y="485.2" font-size="9.2" text-anchor="middle" font-weight="bold" class="b" textLength="27.0" lengthAdjust="spacingAndGlyphs">Closet</text>
<text x="373.6" y="485.2" font-size="9.2" text-anchor="middle" font-weight="bold" class="b" textLength="27.0" lengthAdjust="spacingAndGlyphs">Closet</text>
<text x="136.5" y="441.0" font-size="9.2" text-anchor="middle" font-weight="bold" class="b" textLength="27.0" lengthAdjust="spacingAndGlyphs">Closet</text>
<text x="166.3" y="522.2" font-size="21.0" text-anchor="middle" textLength="86.4" lengthAdjust="spacingAndGlyphs">Bedroom</text>
<text x="166.0" y="543.0" font-size="15.6" text-anchor="middle" textLength="54.0" lengthAdjust="spacingAndGlyphs">11' x 12'</text>
<text x="165.0" y="557.0" font-size="8.6" text-anchor="middle" font-weight="bold" class="b" textLength="51.0" lengthAdjust="spacingAndGlyphs">9' CLG HGT</text>
<text x="303.4" y="549.7" font-size="21.0" text-anchor="middle" textLength="87.0" lengthAdjust="spacingAndGlyphs">Bedroom</text>
<text x="302.5" y="569.5" font-size="14.6" text-anchor="middle" textLength="80.0" lengthAdjust="spacingAndGlyphs">10'-11&quot; x 12'</text>
<text x="301.5" y="587.5" font-size="8.6" text-anchor="middle" font-weight="bold" class="b" textLength="51.0" lengthAdjust="spacingAndGlyphs">9' CLG HGT</text>
<text x="448.3" y="553.5" font-size="21.0" text-anchor="middle" textLength="56.5" lengthAdjust="spacingAndGlyphs">Porch</text>
<text x="448.2" y="569.5" font-size="8.6" text-anchor="middle" font-weight="bold" class="b" textLength="56.0" lengthAdjust="spacingAndGlyphs">12' CLG HGT</text>
<text x="658.3" y="640.0" font-size="21.0" text-anchor="middle" textLength="130.0" lengthAdjust="spacingAndGlyphs">2 Car Garage</text>
<text x="657.4" y="665.8" font-size="14.4" text-anchor="middle" textLength="99.5" lengthAdjust="spacingAndGlyphs">21'-9&quot; x 25'-10&quot;</text>
<text x="216.5" y="400.6" font-size="16" text-anchor="middle" textLength="31.2" lengthAdjust="spacingAndGlyphs">Bath</text>
<text x="442.7" y="804.2" font-size="15" text-anchor="middle" textLength="48.0" lengthAdjust="spacingAndGlyphs">59'-10&quot;</text>
<text x="818.6" y="403.0" font-size="15" text-anchor="middle" textLength="40.5" lengthAdjust="spacingAndGlyphs" transform="rotate(-90 818.6 403.0)">64'-2&quot;</text>
<text x="441.6" y="859.0" font-size="31" text-anchor="middle" textLength="251.0" lengthAdjust="spacingAndGlyphs" style="stroke-width:0.9px">First Floor Plan</text>
<text x="117.6" y="364.0" font-size="8.6" text-anchor="middle" font-weight="bold" class="b" textLength="22.7" lengthAdjust="spacingAndGlyphs" transform="rotate(-90 117.6 364.0)">Linen</text>
<text x="323.6" y="346.8" font-size="8.8" text-anchor="middle" font-weight="bold" class="b" textLength="12.5" lengthAdjust="spacingAndGlyphs" transform="rotate(-90 323.6 346.8)">Lin</text>
<text x="496.8" y="485.8" font-size="9.2" text-anchor="middle" font-weight="bold" class="b" textLength="13.3" lengthAdjust="spacingAndGlyphs">DN</text>
<text x="381.5" y="240.0" font-size="9" text-anchor="middle" font-weight="bold" class="b" textLength="30.5" lengthAdjust="spacingAndGlyphs" transform="rotate(-90 381.5 240.0)">SLOPE</text>
<text x="548.4" y="240.0" font-size="9" text-anchor="middle" font-weight="bold" class="b" textLength="30.5" lengthAdjust="spacingAndGlyphs" transform="rotate(-90 548.4 240.0)">SLOPE</text>
<text x="381.5" y="385.0" font-size="9" text-anchor="middle" font-weight="bold" class="b" textLength="30.5" lengthAdjust="spacingAndGlyphs" transform="rotate(-90 381.5 385.0)">SLOPE</text>
<text x="548.4" y="385.0" font-size="9" text-anchor="middle" font-weight="bold" class="b" textLength="30.5" lengthAdjust="spacingAndGlyphs" transform="rotate(-90 548.4 385.0)">SLOPE</text>
</g>
<g id="dims">
<line x1="520.0" y1="31.6" x2="829.4" y2="31.6" stroke="#000" stroke-width="1.47"/>
<line x1="823.9" y1="31.6" x2="822.6" y2="775.0" stroke="#000" stroke-width="1.47"/>
<line x1="817.2" y1="25.6" x2="829.4" y2="37.2" stroke="#000" stroke-width="2.16"/>
<line x1="793.9" y1="774.8" x2="828.3" y2="774.8" stroke="#000" stroke-width="1.47"/>
<line x1="816.7" y1="769.4" x2="828.3" y2="780.9" stroke="#000" stroke-width="2.16"/>
<line x1="97.2" y1="809.1" x2="788.5" y2="809.8" stroke="#000" stroke-width="1.47"/>
<line x1="97.4" y1="608.5" x2="97.2" y2="814.5" stroke="#000" stroke-width="1.47"/>
<line x1="91.3" y1="814.9" x2="103.1" y2="803.6" stroke="#000" stroke-width="2.16"/>
<line x1="787.8" y1="780.6" x2="787.8" y2="815.6" stroke="#000" stroke-width="1.47"/>
<line x1="782.2" y1="815.3" x2="793.9" y2="804.2" stroke="#000" stroke-width="2.16"/>
</g>
</svg></body></html>
